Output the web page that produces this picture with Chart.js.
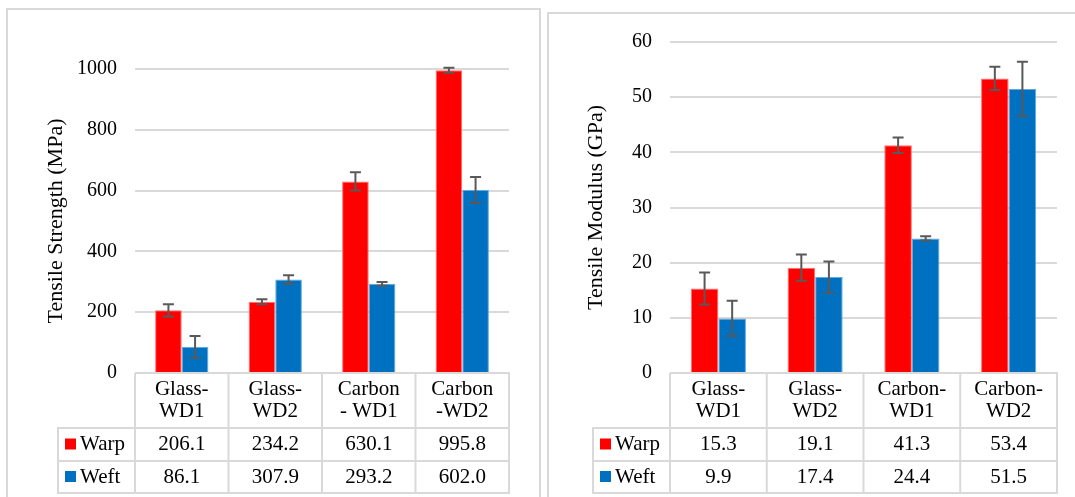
<!DOCTYPE html>
<html>
<head>
<meta charset="utf-8">
<script src="https://cdn.jsdelivr.net/npm/chart.js@4.4.0/dist/chart.umd.min.js"></script>
<style>
  body { margin:0; background:#fff; width:1075px; height:497px; overflow:hidden; position:relative;
         font-family:"Liberation Serif", serif; }
  .frame { position:absolute; box-sizing:border-box; border:2px solid #d9d9d9; }
  .box { position:absolute; top:0; height:497px; }
</style>
</head>
<body>
<div class="frame" style="left:6px;top:8px;width:535px;height:520px"></div>
<div class="frame" style="left:547px;top:12px;width:540px;height:520px"></div>
<div class="box" style="left:0;width:543px"><canvas id="strengthChart"></canvas></div>
<div class="box" style="left:543px;width:532px"><canvas id="modulusChart"></canvas></div>
<script>
// categories (multi-line labels as in the table header)
const strengthCategories = [["Glass-", "WD1"], ["Glass-", "WD2"], ["Carbon", "- WD1"], ["Carbon", "-WD2"]];
const modulusCategories = [["Glass-", "WD1"], ["Glass-", "WD2"], ["Carbon-", "WD1"], ["Carbon-", "WD2"]];
const seriesNames = ["Warp", "Weft"];

// tensile strength (MPa)
const strengthWarp = [206.1, 234.2, 630.1, 995.8];
const strengthWeft = [86.1, 307.9, 293.2, 602.0];
const strengthWarpErr = [20, 8, 30, 8];
const strengthWeftErr = [36, 14, 6, 43];

// tensile modulus (GPa)
const modulusWarp = [15.3, 19.1, 41.3, 53.4];
const modulusWeft = [9.9, 17.4, 24.4, 51.5];
const modulusWarpErr = [2.9, 2.4, 1.4, 2.1];
const modulusWeftErr = [3.2, 2.8, 0.4, 4.9];

const FONT = '"Liberation Serif", "Times New Roman", serif';
const RED = '#FF0000', BLUE = '#0070C0';
const LINE = '#d9d9d9';

// error bars drawn from the dataset's "errors" array
const errorBars = {
  id: 'errorBars',
  afterDatasetsDraw(chart) {
    const ctx = chart.ctx, y = chart.scales.y;
    ctx.save();
    ctx.strokeStyle = '#595959';
    ctx.lineWidth = 2;
    chart.data.datasets.forEach((ds, di) => {
      const meta = chart.getDatasetMeta(di);
      meta.data.forEach((bar, i) => {
        const v = ds.data[i], e = ds.errors[i];
        const yTop = y.getPixelForValue(v + e);
        const yBot = y.getPixelForValue(v - e);
        ctx.beginPath();
        ctx.moveTo(bar.x, yTop); ctx.lineTo(bar.x, yBot);
        ctx.moveTo(bar.x - 5.5, yTop); ctx.lineTo(bar.x + 5.5, yTop);
        ctx.moveTo(bar.x - 5.5, yBot); ctx.lineTo(bar.x + 5.5, yBot);
        ctx.stroke();
      });
    });
    ctx.restore();
  }
};

// data table under the plot (category header + one row per series)
const dataTable = {
  id: 'dataTable',
  afterDatasetsDraw(chart, args, opts) {
    const ctx = chart.ctx, xs = chart.scales.x, area = chart.chartArea;
    const n = chart.data.labels.length;
    const w = (area.right - area.left) / n;
    const [y0, y1, y2, y3] = opts.rows;
    ctx.save();
    ctx.strokeStyle = LINE;
    ctx.lineWidth = 2;
    ctx.beginPath();
    ctx.moveTo(area.left, y0); ctx.lineTo(area.right + 1, y0);
    [y1, y2, y3].forEach(yy => { ctx.moveTo(opts.labelLeft - 1, yy); ctx.lineTo(area.right + 1, yy); });
    for (let i = 0; i <= n; i++) {
      const xx = area.left + i * w;
      ctx.moveTo(xx, y0); ctx.lineTo(xx, y3);
    }
    ctx.moveTo(opts.labelLeft, y1); ctx.lineTo(opts.labelLeft, y3);
    ctx.stroke();

    ctx.fillStyle = '#000';
    ctx.font = '21px ' + FONT;
    ctx.textAlign = 'center';
    ctx.textBaseline = 'middle';
    const hc = (y0 + y1) / 2;
    chart.data.labels.forEach((lab, i) => {
      const cx = xs.getPixelForValue(i);
      ctx.fillText(lab[0], cx, hc - 11);
      ctx.fillText(lab[1], cx, hc + 11);
    });
    const rowMid = [(y1 + y2) / 2, (y2 + y3) / 2];
    chart.data.datasets.forEach((ds, di) => {
      const ry = rowMid[di];
      ctx.fillStyle = ds.backgroundColor;
      ctx.fillRect(opts.labelLeft + 7, ry - 6, 11, 11);
      ctx.fillStyle = '#000';
      ctx.textAlign = 'left';
      ctx.fillText(ds.label, opts.labelLeft + 22, ry);
      ctx.textAlign = 'center';
      ds.data.forEach((v, i) => ctx.fillText(v.toFixed(1), xs.getPixelForValue(i), ry));
    });
    ctx.restore();
  }
};

function makeChart(id, labels, warp, weft, warpErr, weftErr, yMax, yStep, yTitle, axisWidth, pad, titlePad, labelLeft) {
  return new Chart(document.getElementById(id), {
    type: 'bar',
    data: {
      labels: labels,
      datasets: [
        { label: seriesNames[0], data: warp, errors: warpErr, backgroundColor: RED,
          borderColor: '#ff7070', borderWidth: 1 },
        { label: seriesNames[1], data: weft, errors: weftErr, backgroundColor: BLUE,
          borderColor: '#5fa8e0', borderWidth: 1 }
      ]
    },
    options: {
      responsive: true,
      maintainAspectRatio: false,
      animation: false,
      categoryPercentage: 0.57,
      barPercentage: 1.0,
      layout: { padding: pad },
      plugins: {
        legend: { display: false },
        tooltip: { enabled: false },
        dataTable: { labelLeft: labelLeft, rows: [373, 428, 461, 493] }
      },
      scales: {
        x: { display: false },
        y: {
          min: 0, max: yMax,
          afterFit(scale) { scale.width = axisWidth; },
          border: { display: false },
          grid: { color: LINE, lineWidth: 2, drawTicks: false },
          ticks: { stepSize: yStep, padding: 18, color: '#000', font: { family: FONT, size: 20 },
                   callback: v => String(v) },
          title: { display: true, text: yTitle, color: '#000', padding: { top: titlePad, bottom: 0 },
                   font: { family: FONT, size: 22 } }
        }
      }
    },
    plugins: [errorBars, dataTable]
  });
}

function drawAll() {
  makeChart('strengthChart', strengthCategories, strengthWarp, strengthWeft, strengthWarpErr, strengthWeftErr,
    1000, 200, 'Tensile Strength (MPa)', 135, { top: 69, right: 34, bottom: 124, left: 0 }, 43, 58);
  makeChart('modulusChart', modulusCategories, modulusWarp, modulusWeft, modulusWarpErr, modulusWeftErr,
    60, 10, 'Tensile Modulus (GPa)', 127, { top: 42, right: 18, bottom: 124, left: 0 }, 40, 50);
}

document.fonts.load('21px "Liberation Serif"').then(drawAll, drawAll);
</script>
</body>
</html>
